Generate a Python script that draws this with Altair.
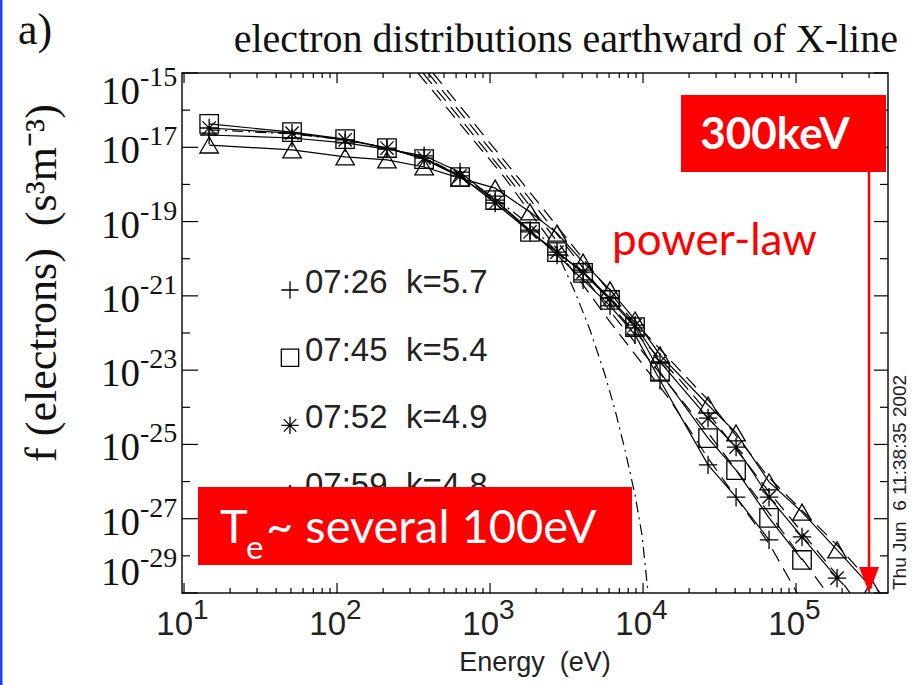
import altair as alt
import pandas as pd

# ---------------------------------------------------------------------------
# Measured electron phase-space densities, earthward of the X-line
# ---------------------------------------------------------------------------
energy_ev = [14.6, 50.8, 113, 212, 371, 637, 1080, 1825, 2740, 4055, 6085,
             8865, 12910, 26600, 40550, 66600, 109400, 185300, 314000]

series_time = ["07:26", "07:45", "07:52", "07:59"]
series_kappa = ["5.7", "5.4", "4.9", "4.8"]

f_0726 = [2.14e-17, 1.78e-17, 1.32e-17, 8.91e-18, 5.89e-18, 2.14e-18, 3.80e-19,
          5.89e-20, 1.26e-20, 2.69e-21, 5.37e-22, 8.91e-23, 5.37e-24,
          2.82e-26, 3.80e-27, 2.69e-28]
f_0745 = [4.27e-17, 2.57e-17, 1.66e-17, 9.55e-18, 4.79e-18, 1.58e-18, 3.80e-19,
          5.25e-20, 1.51e-20, 4.17e-21, 7.76e-22, 1.45e-22, 8.91e-24,
          1.48e-25, 2.04e-26, 1.05e-27, 7.76e-29]
f_0752 = [3.31e-17, 2.40e-17, 1.58e-17, 9.55e-18, 5.13e-18, 1.70e-18, 3.16e-19,
          5.25e-20, 1.51e-20, 4.37e-21, 8.71e-22, 1.62e-22, 1.66e-23,
          5.13e-25, 8.51e-26, 3.80e-27, 3.24e-28, 2.51e-29]
f_0759 = [1.15e-17, 8.51e-18, 5.50e-18, 4.57e-18, 2.95e-18, 1.48e-18, 7.94e-19,
          1.82e-19, 4.90e-20, 8.13e-21, 1.45e-21, 2.24e-22, 2.57e-23,
          1.15e-24, 2.04e-25, 9.77e-27, 1.51e-27, 1.45e-28, 1.35e-29]

# power-law (kappa tail) fits, one per interval
pl_e_0726 = [338, 1253, 6085, 15000, 26600, 67600, 101600]
pl_f_0726 = [1e-15, 1.48e-18, 2.0e-22, 1.58e-24, 4.27e-26, 1.95e-28, 1e-29]
pl_e_0745 = [365, 1352, 6761, 16180, 26600, 66600, 159500]
pl_f_0745 = [1e-15, 1.32e-18, 2.24e-22, 2.57e-24, 2.04e-25, 1.41e-27, 1e-29]
pl_e_0752 = [394, 1457, 7295, 17460, 26600, 66600, 185300, 225400]
pl_f_0752 = [1e-15, 1.32e-18, 2.51e-22, 5.37e-24, 7.08e-25, 5.25e-27, 3.02e-29, 1e-29]
pl_e_0759 = [424, 1571, 7980, 19400, 26600, 66600, 185300, 354000]
pl_f_0759 = [1e-15, 1.32e-18, 3.02e-22, 6.17e-24, 1.58e-24, 1.26e-26, 1.95e-28, 1e-29]

# Maxwellian core fit
mx_e = [14.6, 50.8, 113, 212, 371, 637, 1080, 1825, 2740, 3597, 4505, 5646,
        6561, 7624, 8865, 9846, 10790]
mx_f = [2.95e-17, 2.29e-17, 1.58e-17, 9.55e-18, 5.13e-18, 1.78e-18, 4.27e-19,
        8.13e-20, 1.51e-20, 1.26e-21, 1.20e-22, 7.41e-24, 8.51e-25, 7.08e-26,
        4.37e-27, 3.63e-28, 1e-29]

# axis ticks and labels
x_major = [10, 100, 1000, 10000, 100000]
x_minor = [m * d for d in (10, 100, 1000, 10000) for m in range(2, 10)] + [200000, 300000]
x_exp = ["1", "2", "3", "4", "5"]
y_odd = [1e-15, 1e-17, 1e-19, 1e-21, 1e-23, 1e-25, 1e-27, 1e-29]
y_even = [1e-16, 1e-18, 1e-20, 1e-22, 1e-24, 1e-26, 1e-28]
y_exp = ["-15", "-17", "-19", "-21", "-23", "-25", "-27", "-29"]

arrow_energy = 300000  # 300 keV marker

# ---------------------------------------------------------------------------
W, H = 706, 520
SERIF = "Liberation Serif"
SANS = "Liberation Sans"
CALIBRI = "Lato"
RED = "#ff0000"

xs = alt.Scale(type="log", domain=[9.7, 3.99e5], nice=False)
ys = alt.Scale(type="log", domain=[1e-29, 1e-15], nice=False)


def X(field="e"):
    return alt.X(f"{field}:Q", scale=xs, axis=None)


def Y(field="f"):
    return alt.Y(f"{field}:Q", scale=ys, axis=None)


PLUS = "M-1,0L1,0M0,-1L0,1"
STAR = "M-1,0L1,0M0,-1L0,1M-0.72,-0.72L0.72,0.72M-0.72,0.72L0.72,-0.72"
shape_scale = alt.Scale(domain=series_time, range=[PLUS, "square", STAR, "triangle-up"])

rows = []
for t, vals in zip(series_time, [f_0726, f_0745, f_0752, f_0759]):
    for e, f in zip(energy_ev, vals):
        rows.append({"series": t, "e": e, "f": f})
points = pd.DataFrame(rows)

fit_rows = []
for t, es, fs in zip(series_time,
                     [pl_e_0726, pl_e_0745, pl_e_0752, pl_e_0759],
                     [pl_f_0726, pl_f_0745, pl_f_0752, pl_f_0759]):
    for e, f in zip(es, fs):
        fit_rows.append({"series": t, "e": e, "f": f})
fits = pd.DataFrame(fit_rows)
maxwell = pd.DataFrame({"e": mx_e, "f": mx_f})

one = pd.DataFrame({"k": [0]})

layers = []

# fits
layers.append(alt.Chart(fits).mark_line(color="black", strokeWidth=1.2, strokeDash=[14, 8],
                                        clip=True).encode(x=X(), y=Y(), detail="series:N"))
layers.append(alt.Chart(maxwell).mark_line(color="black", strokeWidth=1.2,
                                           strokeDash=[11, 5, 2, 5], clip=True).encode(x=X(), y=Y()))
# measurements
layers.append(alt.Chart(points).mark_line(color="black", strokeWidth=1.2, clip=True)
              .encode(x=X(), y=Y(), detail="series:N"))
layers.append(alt.Chart(points).mark_point(size=340, filled=False, color="black", opacity=1,
                                           strokeWidth=1.3, clip=True)
              .encode(x=X(), y=Y(), shape=alt.Shape("series:N", scale=shape_scale, legend=None)))


# inward ticks on all four sides
def xticks(vals, y0, y1):
    return alt.Chart(pd.DataFrame({"e": vals})).mark_rule(color="black", strokeWidth=1.2).encode(
        x=X(), y=alt.value(y0), y2=alt.value(y1))


def yticks(vals, x0, x1):
    return alt.Chart(pd.DataFrame({"f": vals})).mark_rule(color="black", strokeWidth=1.2).encode(
        y=Y(), x=alt.value(x0), x2=alt.value(x1))


layers += [xticks(x_major, H, H - 10), xticks(x_minor, H, H - 5),
           xticks(x_major, 0, 10), xticks(x_minor, 0, 5),
           yticks(y_odd, 0, 16), yticks(y_even, 0, 8),
           yticks(y_odd, W, W - 14), yticks(y_even, W, W - 8)]

# x tick labels: "10" with superscript exponent
xlab = pd.DataFrame({"e": x_major, "p": x_exp})
layers.append(alt.Chart(xlab).mark_text(font=SANS, fontSize=33, align="right", dx=9,
                                        baseline="alphabetic", color="#222")
              .encode(x=X(), y=alt.value(H + 42), text=alt.value("10")))
layers.append(alt.Chart(xlab).mark_text(font=SANS, fontSize=28, align="left", dx=9,
                                        baseline="alphabetic", color="#222")
              .encode(x=X(), y=alt.value(H + 26), text="p:N"))

# y tick labels; the end labels are pulled inside the frame
ylab = pd.DataFrame({"f": y_odd, "p": y_exp})
for part, dy in [(ylab.iloc[1:-1], 0), (ylab.iloc[:1], 15), (ylab.iloc[-1:], -24)]:
    layers.append(alt.Chart(part).mark_text(font=SERIF, fontSize=39, align="right",
                                            baseline="middle", dx=-42, dy=dy + 4, color="#111")
                  .encode(y=Y(), x=alt.value(0), text=alt.value("10")))
    layers.append(alt.Chart(part).mark_text(font=SERIF, fontSize=28, align="left",
                                            baseline="middle", dx=-42, dy=dy - 10, color="#111")
                  .encode(y=Y(), x=alt.value(0), text="p:N"))

# axis titles, plot title, panel letter, time stamp
def label(text, x, y, **kw):
    return alt.Chart(one).mark_text(**kw).encode(x=alt.value(x), y=alt.value(y),
                                                 text=alt.value(text))


layers.append(label("Energy\u00a0\u00a0(eV)", 353, H + 78, font=SANS, fontSize=27,
                    align="center", baseline="alphabetic", color="#222"))
layers.append(label("f (electrons)\u00a0\u00a0(s\u00b3m\u207b\u00b3)", -139, 210, font=SERIF,
                    fontSize=44, angle=270, align="center", baseline="middle", color="#111"))
layers.append(label("electron distributions earthward of X-line", 716, -33, font=SERIF,
                    fontSize=40, align="right", baseline="middle", color="#111"))
layers.append(label("a)", -164, -42, font=SERIF, fontSize=44, align="left",
                    baseline="middle", color="#111"))
layers.append(label("Thu Jun\u00a0\u00a06 11:38:35 2002", 718, H - 3, font=SANS, fontSize=19,
                    angle=270, align="left", baseline="middle", color="#222"))

# legend inside the frame
leg_top = 220
for i, (t, k) in enumerate(zip(series_time, series_kappa)):
    base = leg_top + 67.7 * i
    layers.append(alt.Chart(pd.DataFrame({"series": [t]})).mark_point(
        size=300, filled=False, color="black", opacity=1, strokeWidth=1.3)
        .encode(x=alt.value(108), y=alt.value(base - 3),
                shape=alt.Shape("series:N", scale=shape_scale, legend=None)))
    layers.append(label(f"{t}\u00a0\u00a0k={k}", 123, base, font=SANS, fontSize=33,
                        align="left", baseline="alphabetic", color="#222"))

# annotations
layers.append(alt.Chart(one).mark_rect(color=RED).encode(
    x=alt.value(16), x2=alt.value(450), y=alt.value(414), y2=alt.value(492)))
layers.append(label("T", 38, 470, font=CALIBRI, fontSize=47, align="left",
                    baseline="alphabetic", color="white"))
layers.append(label("e", 64, 486, font=CALIBRI, fontSize=33, align="left",
                    baseline="alphabetic", color="white"))
layers.append(label("~ several 100eV", 84, 470, font=CALIBRI, fontSize=47, align="left",
                    baseline="alphabetic", color="white"))

layers.append(alt.Chart(one).mark_rect(color=RED).encode(
    x=alt.value(499), x2=alt.value(704), y=alt.value(22), y2=alt.value(99)))
layers.append(label("300keV", 593, 76, font=CALIBRI, fontSize=44, fontWeight="bold",
                    align="center", baseline="alphabetic", color="white"))
layers.append(label("power-law", 430, 182, font=CALIBRI, fontSize=44, align="left",
                    baseline="alphabetic", color=RED))

arrow = pd.DataFrame({"e": [arrow_energy]})
layers.append(alt.Chart(arrow).mark_rule(color=RED, strokeWidth=2.5).encode(
    x=X(), y=alt.value(99), y2=alt.value(H - 22)))
layers.append(alt.Chart(arrow).mark_point(shape="M-0.77,-1L0.77,-1L0,1Z", size=676, filled=True,
                                          color=RED, opacity=1).encode(x=X(), y=alt.value(H - 13)))

# thin blue edge on the left of the slide
layers.append(alt.Chart(one).mark_rule(color="#1f3fff", strokeWidth=3).encode(
    x=alt.value(-181), y=alt.value(-73), y2=alt.value(H + 92)))

chart = alt.layer(*layers).properties(
    width=W, height=H,
    autosize=alt.AutoSizeParams(type="none"),
    padding={"left": 182, "top": 73, "right": 28, "bottom": 92},
    background="white",
).configure_view(stroke="#111", strokeWidth=1.5)

chart.save("out.html", embed_options={"renderer": "svg", "actions": False})
